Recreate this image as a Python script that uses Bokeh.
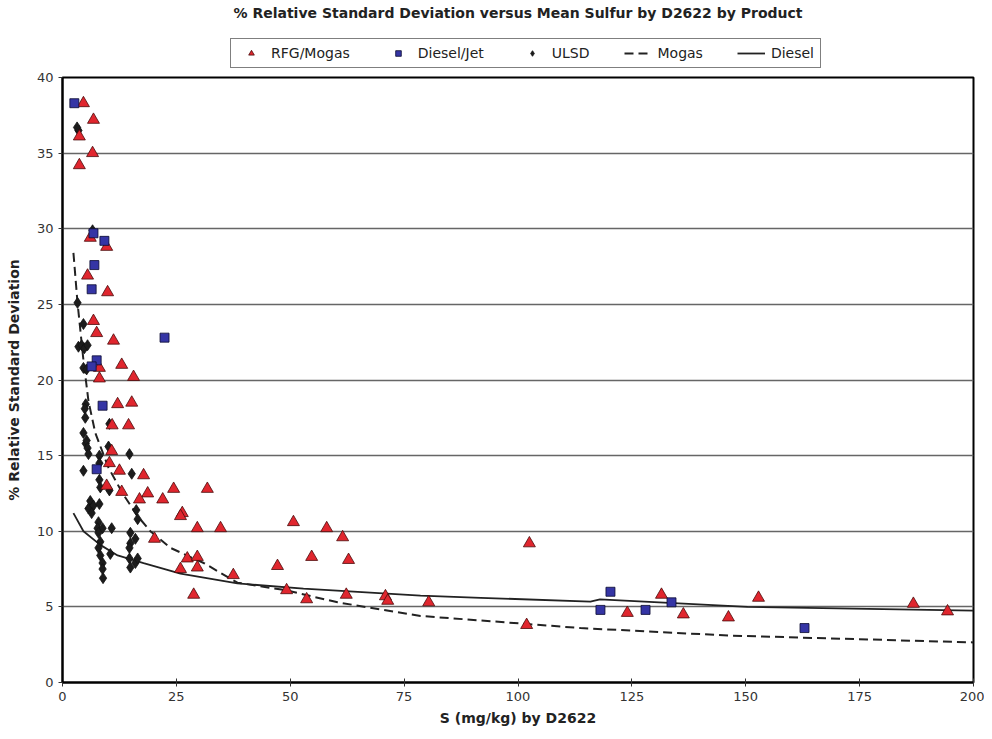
from bokeh.plotting import figure
from bokeh.layouts import column
from bokeh.models import Legend, LegendItem, SingleIntervalTicker
from bokeh.embed import file_html
from bokeh.resources import INLINE

# RFG/Mogas (triangles)
rfg_x = [4.6, 6.8, 3.7, 6.6, 3.7, 6.1, 9.7, 5.5, 9.9, 6.8, 7.5, 11.2, 8.1, 8.1, 13.0, 15.6,
         12.1, 15.2, 10.9, 14.5, 10.8, 10.3, 12.5, 17.8, 9.7, 13.0, 18.7, 16.9, 22.0, 24.4,
         31.8, 26.3, 25.9, 29.6, 34.7, 20.2, 27.4, 29.6, 29.6, 25.9, 37.5, 28.8, 50.7, 58.0,
         61.5, 54.7, 62.8, 47.2, 49.2, 53.6, 62.3, 70.9, 71.4, 80.4, 102.5, 101.9, 124.0,
         131.5, 136.3, 146.2, 152.8, 186.8, 194.3]
rfg_y = [38.3, 37.2, 36.1, 35.0, 34.2, 29.4, 28.8, 26.9, 25.8, 23.9, 23.1, 22.6, 20.8, 20.1, 21.0, 20.2,
         18.4, 18.5, 17.0, 17.0, 15.3, 14.5, 14.0, 13.7, 13.0, 12.6, 12.5, 12.1, 12.1, 12.8,
         12.8, 11.2, 11.0, 10.2, 10.2, 9.5, 8.2, 8.3, 7.6, 7.5, 7.1, 5.8, 10.6, 10.2,
         9.6, 8.3, 8.1, 7.7, 6.1, 5.5, 5.8, 5.7, 5.4, 5.3, 9.2, 3.8, 4.6,
         5.8, 4.5, 4.3, 5.6, 5.2, 4.7]

# Diesel/Jet (squares)
dj_x = [2.6, 6.8, 9.2, 7.0, 6.4, 22.4, 7.5, 6.4, 8.8, 7.5, 120.3, 118.1, 128.0, 133.7, 162.9]
dj_y = [38.3, 29.7, 29.2, 27.6, 26.0, 22.8, 21.3, 20.9, 18.3, 14.1, 6.0, 4.8, 4.8, 5.3, 3.6]

# ULSD (diamonds)
ulsd_x = [3.5, 3.2, 6.6, 3.3, 4.6, 3.5, 4.2, 4.8, 5.5, 4.6, 5.3, 5.1, 4.9, 5.0, 4.6, 5.1, 5.3,
          5.5, 5.7, 4.6, 8.1, 8.1, 8.1, 8.3, 10.3, 10.1, 10.3, 14.7, 15.2, 6.1, 5.7, 6.8, 8.1,
          6.4, 16.2, 16.5, 7.9, 7.7, 8.8, 7.9, 10.8, 14.9, 16.0, 14.9, 8.3, 7.9, 14.7, 10.5,
          14.7, 16.0, 14.9, 16.5, 8.8, 8.8, 8.9, 8.3]
ulsd_y = [36.5, 36.7, 29.9, 25.1, 23.7, 22.2, 22.3, 22.1, 22.3, 20.8, 20.7, 18.4, 18.1, 17.5, 16.5, 15.8, 16.0,
          15.5, 15.1, 14.0, 15.0, 14.5, 13.4, 12.9, 12.7, 15.6, 17.1, 15.1, 13.8, 12.0, 11.5, 11.7, 11.8,
          11.2, 11.4, 10.8, 10.6, 10.2, 10.2, 9.9, 10.2, 9.9, 9.5, 9.2, 9.3, 8.9, 8.9, 8.5,
          8.2, 7.9, 7.6, 8.2, 7.9, 7.5, 6.9, 8.4]

# Mogas fit (dashed)
mogas_x = [2.4, 3.3, 4.6, 5.7, 7.2, 10.1, 13.2, 16.5, 19.3, 23.7, 31.0, 38.4, 49.0, 60.4, 78.6,
           91.8, 113.7, 146.6, 200.0]
mogas_y = [28.4, 25.1, 21.3, 18.6, 16.5, 14.2, 12.5, 11.0, 10.0, 8.9, 7.9, 6.6, 6.1, 5.3, 4.4,
           4.1, 3.6, 3.1, 2.65]

# Diesel fit (solid)
diesel_x = [2.4, 4.6, 8.3, 12.1, 17.8, 25.9, 38.4, 52.9, 78.6, 91.8, 115.9, 118.0, 150.4, 200.0]
diesel_y = [11.2, 10.0, 9.1, 8.4, 7.9, 7.2, 6.55, 6.2, 5.75, 5.6, 5.35, 5.5, 5.0, 4.75]

series_names = ["RFG/Mogas", "Diesel/Jet", "ULSD", "Mogas", "Diesel"]

FONT = "DejaVu Sans"
FRAME_W, FRAME_H = 911, 605
LEFT, RIGHT = 62, 11
TOTAL_W = LEFT + FRAME_W + RIGHT

TRI = dict(marker="triangle", fill_color="#e0262e", line_color="#4a0a0a", line_width=0.8)
SQR = dict(marker="square", fill_color="#3535a5", line_color="#0a0a30", line_width=0.8)
DIA = dict(marker="diamond", fill_color="#1c1c1c", line_color="#111111", line_width=0.8)
DASH = dict(line_color="#222222", line_width=2, line_dash="9 5")
SOLID = dict(line_color="#222222", line_width=1.8)

# ---------------- header: title + legend ----------------
# (the header's range is chosen so that its legend-proxy renderers fall outside the view)
head = figure(width=TOTAL_W, height=69, x_range=(-2, -1), y_range=(-2, -1),
              x_axis_type=None, y_axis_type=None, output_backend="svg",
              toolbar_location=None, min_border=0,
              title="% Relative Standard Deviation versus Mean Sulfur by D2622 by Product")
head.outline_line_color = None
head.xgrid.grid_line_color = None
head.ygrid.grid_line_color = None
head.title.align = "center"
head.title.text_font = FONT
head.title.text_font_size = "14px"
head.title.text_font_style = "bold"
head.title.text_color = "#222222"
head.title.standoff = 4

h_rfg = head.scatter(rfg_x[:1], rfg_y[:1], size=11, **TRI)
h_dj = head.scatter(dj_x[:1], dj_y[:1], size=9, **SQR)
h_ulsd = head.scatter(ulsd_x[:1], ulsd_y[:1], size=11, **DIA)
h_mog = head.line(mogas_x[:2], mogas_y[:2], **DASH)
h_die = head.line(diesel_x[:2], diesel_y[:2], **SOLID)

legend = Legend(items=[LegendItem(label=n, renderers=[r]) for n, r in
                       zip(series_names, [h_rfg, h_dj, h_ulsd, h_mog, h_die])],
                orientation="horizontal", location=(168, 1))
legend.label_text_font = FONT
legend.label_text_font_size = "14px"
legend.label_text_color = "#222222"
legend.border_line_color = "black"
legend.border_line_width = 1.5
legend.glyph_width = 28
legend.glyph_height = 14
legend.spacing = 34
legend.padding = 6
legend.margin = 0
legend.label_standoff = 6
head.add_layout(legend, "center")

# ---------------- main plot ----------------
p = figure(frame_width=FRAME_W, frame_height=FRAME_H, x_range=(0, 200), y_range=(0, 40),
           output_backend="svg", toolbar_location=None,
           min_border_left=LEFT, min_border_right=RIGHT, min_border_top=8, min_border_bottom=49)

p.outline_line_color = "black"
p.outline_line_width = 2

p.xgrid.grid_line_color = None
p.ygrid.grid_line_color = "#666666"
p.ygrid.grid_line_width = 1.6

p.xaxis.ticker = SingleIntervalTicker(interval=25)
p.yaxis.ticker = SingleIntervalTicker(interval=5)
p.xaxis.minor_tick_line_color = None
p.yaxis.minor_tick_line_color = None
for ax in (p.xaxis, p.yaxis):
    ax.axis_line_color = "black"
    ax.axis_line_width = 2
    ax.major_tick_line_color = "#333333"
    ax.major_label_text_font = FONT
    ax.major_label_text_font_size = "13px"
    ax.major_label_text_color = "#333333"
    ax.axis_label_text_font = FONT
    ax.axis_label_text_font_size = "14px"
    ax.axis_label_text_font_style = "bold"
    ax.axis_label_text_color = "#222222"
p.xaxis.major_tick_in = 4
p.xaxis.major_tick_out = 4
p.yaxis.major_tick_in = 0
p.yaxis.major_tick_out = 4
p.yaxis.axis_label_standoff = 12
p.xaxis.axis_label_standoff = 6
p.xaxis.axis_label = "S (mg/kg) by D2622"
p.yaxis.axis_label = "% Relative Standard Deviation"

p.line(mogas_x, mogas_y, **DASH)
p.line(diesel_x, diesel_y, **SOLID)
p.scatter(ulsd_x, ulsd_y, size=11, **DIA)
p.scatter(rfg_x, rfg_y, size=12, **TRI)
p.scatter(dj_x, dj_y, size=9, **SQR)

layout = column(head, p, spacing=0)
open("out.html", "w").write(file_html(layout, INLINE))
